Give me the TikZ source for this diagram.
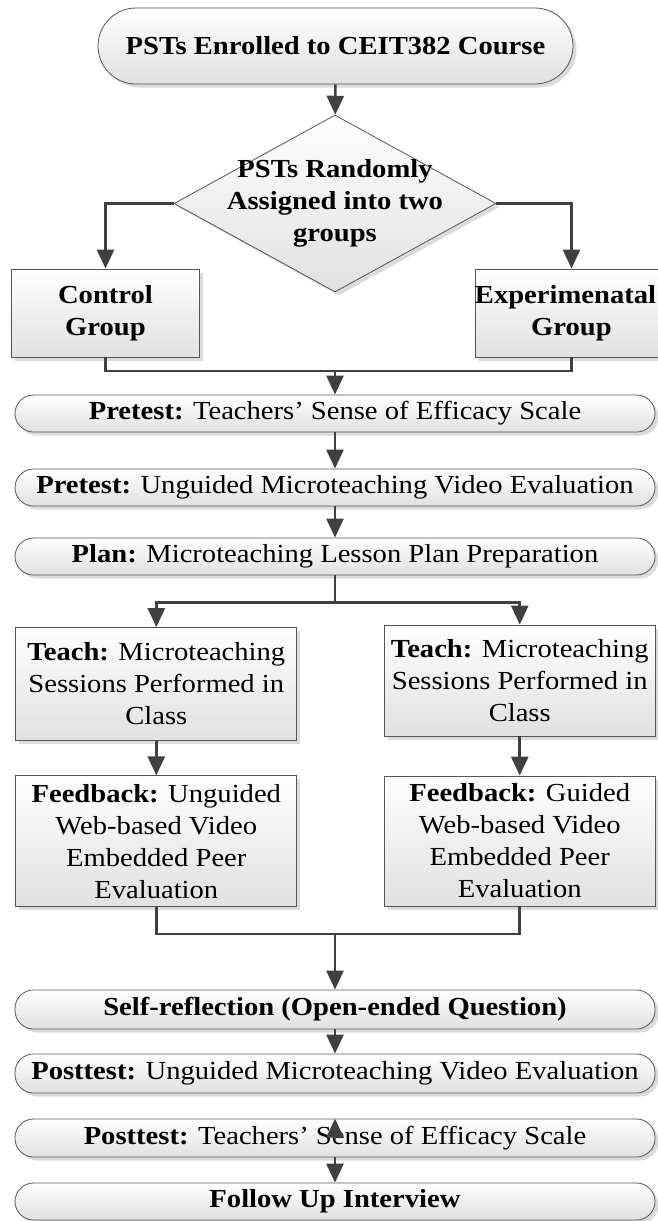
\documentclass[tikz,border=0pt]{standalone}
\usepackage{fontspec}
\setmainfont{Liberation Serif}[FakeStretch=1.1]
\usetikzlibrary{arrows.meta,shapes.geometric,shadows}
\definecolor{L}{RGB}{64,64,64}
\definecolor{O}{RGB}{85,85,85}

\tikzset{
   caja/.style={draw=O, line width=0.8pt, top color=white, bottom color=black!12,
      drop shadow={shadow xshift=3.5pt, shadow yshift=-3.5pt, fill=black!14, opacity=1},
      align=center, inner sep=0pt, font=\fontsize{26}{32}\selectfont},
   term/.style={caja, rectangle, rounded corners=18.5pt, minimum width=640pt, minimum height=37pt},
   proc/.style={caja, rectangle, minimum width=281pt, minimum height=113pt},
   dec/.style={caja, diamond, minimum width=322pt, minimum height=177pt},
   lin/.style={draw=L, line width=2.6pt},
   arr/.style={lin, -{Triangle[length=19pt,width=17pt]}}
}

\begin{document}
\begin{tikzpicture}[x=1pt, y=-1pt]
   \useasboundingbox (0,0) rectangle (658,1221);
   \clip (0,0) rectangle (658,1221);

   %Inicio y decision
   \node[term, rounded corners=38pt, minimum width=475pt, minimum height=76pt] (start) at (335.5,46) {\textbf{PSTs Enrolled to CEIT382 Course}};
   \node[dec, label={[font=\fontsize{26}{32}\selectfont\bfseries, align=center]center:PSTs Randomly\\Assigned into two\\groups}] (split) at (335,203.5) {};

   %Los dos grupos
   \node[proc, minimum width=187.5pt, minimum height=88pt] (ctrl) at (105.5,313) {\textbf{Control}\\\textbf{Group}};
   \node[proc, minimum width=187.5pt, minimum height=88pt] (expt) at (571.5,313) {\textbf{Experimenatal}\hspace*{12pt}\\\textbf{Group}};

   %Pretest y plan
   \node[term] (pre1) at (335,413.5) {\textbf{Pretest:} Teachers’ Sense of Efficacy Scale};
   \node[term] (pre2) at (335,487.5) {\textbf{Pretest:} Unguided Microteaching Video Evaluation};
   \node[term] (plan) at (335,556.5) {\textbf{Plan:} Microteaching Lesson Plan Preparation};

   %Rama izquierda
   \node[proc] (teachA) at (156.3,684) {\textbf{Teach:} Microteaching\\Sessions Performed in\\Class};
   \node[proc, minimum height=131pt] (fbA) at (156.3,841.3) {\textbf{Feedback:} Unguided\\Web-based Video\\Embedded Peer\\Evaluation};

   %Rama derecha
   \node[proc, minimum width=271.5pt, minimum height=111pt] (teachB) at (519.75,680.5) {\textbf{Teach:} Microteaching\\Sessions Performed in\\Class};
   \node[proc, minimum width=271.5pt, minimum height=130pt] (fbB) at (519.75,841) {\textbf{Feedback:} Guided\\Web-based Video\\Embedded Peer\\Evaluation};

   %Cierre
   \node[term, minimum height=39pt] (self) at (335,1009.5) {\textbf{Self-reflection (Open-ended Question)}};
   \node[term, minimum height=39pt] (post1) at (335,1073.5) {\textbf{Posttest:} Unguided Microteaching Video Evaluation};
   \node[term, minimum height=38pt] (post2) at (335,1138) {\textbf{Posttest:} Teachers’ Sense of Efficacy Scale};
   \node[term] (follow) at (335,1201.5) {\textbf{Follow Up Interview}};

   %Puntos de union
   \coordinate (juntaA) at (335,371);
   \coordinate (juntaB) at (335,602.7);
   \coordinate (juntaC) at (335,934);

   %Flechas
   \draw[arr] (start) -- (split);
   \draw[arr] (split.west) -| (ctrl.north);
   \draw[arr] (split.east) -| (expt.north);
   \draw[lin] (ctrl.south) |- (juntaA) -| (expt.south);
   \draw[arr] (juntaA) -- (pre1.north);
   \draw[arr] (pre1) -- (pre2);
   \draw[arr] (pre2) -- (plan);
   \draw[lin] (plan.south) -- (juntaB);
   \draw[arr] (juntaB) -| (teachA.north);
   \draw[arr] (juntaB) -| (teachB.north);
   \draw[arr] (teachA) -- (fbA);
   \draw[arr] (teachB) -- (fbB);
   \draw[lin] (fbA.south) |- (juntaC) -| (fbB.south);
   \draw[arr] (juntaC) -- (self.north);
   \draw[arr] (self) -- (post1);
   \draw[arr] (post2.center) -- (post2.north);
   \draw[arr] (post2) -- (follow);
\end{tikzpicture}
\end{document}
